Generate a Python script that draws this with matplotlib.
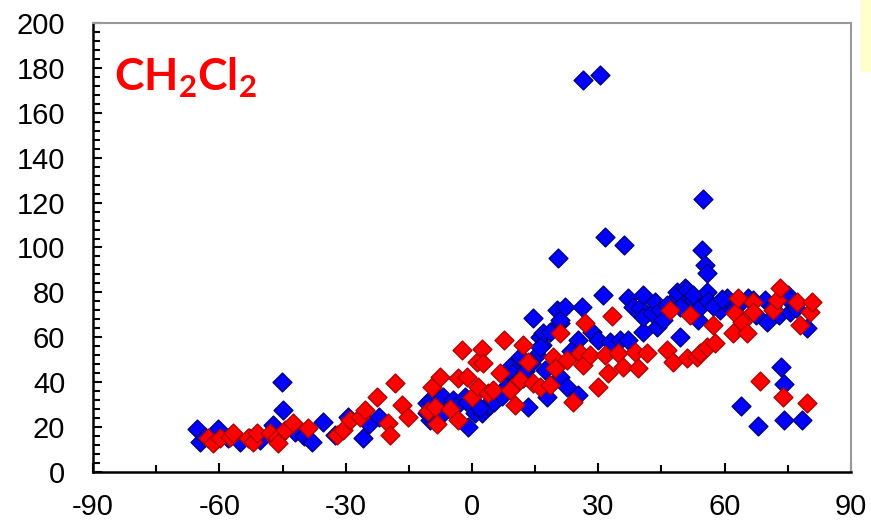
import matplotlib
matplotlib.use('Agg')
import matplotlib.pyplot as plt
from matplotlib.patches import Rectangle
from matplotlib.ticker import MultipleLocator

# blue series (x, y)
blue_x = [-65.3, -64.6, -63.5, -60.3, -58.0, -55.0, -53.0, -50.3, -47.3, -45.2, -44.8, -42.0, -40.0, -38.0,
          -35.4, -32.5, -29.4, -25.9, -24.5, -22.2,
          -10.7, -10.0, -10.7, -10.0, -8.3, -6.9, -6.4, -6.9, -4.5, -3.5, -1.7, -1.2, -0.9, 0.7, 2.4, 3.5,
          4.3, 5.5, 6.6, 8.0, 9.0, 9.5, 11.4, 12.0, 13.3, 14.5, 15.4, 16.2, 16.6, 16.9, 16.2, 17.3, 17.8,
          20.2, 20.9, 20.9, 20.4, 20.9, 22.1, 22.6, 25.2, 25.2, 26.1, 26.4, 28.5, 29.9, 30.4, 31.1, 31.6,
          32.8, 35.1, 36.1, 37.0, 37.0, 38.2, 39.9, 40.6, 40.6, 40.6, 42.8, 43.5, 43.9, 48.7, 48.7, 49.4,
          49.4, 50.6, 51.0, 52.5, 52.5, 53.7, 54.1, 54.9, 54.6, 55.3, 55.8, 55.8, 56.0, 58.9, 60.6, 63.0,
          65.5, 66.7, 69.6, 70.1, 73.0, 75.0, 74.8, 75.5, 79.6, 73.4, 74.0, 64.0, 68.0, 74.0, 78.4,
          1.8, 5.2, 7.2, 10.5, 12.6, 14.0, 18.6, 23.4, 44.6, 46.2, 45.4, 57.2, 59.4, 62.0, 67.4, 71.2, 77.0]
blue_y = [19.0, 13.4, 15.5, 19.0, 15.0, 13.4, 15.0, 14.3, 21.0, 40.3, 27.6, 18.0, 16.0, 13.4,
          22.3, 16.5, 24.5, 15.0, 21.5, 24.5,
          30.7, 23.2, 26.3, 32.0, 34.0, 33.4, 27.6, 26.3, 32.0, 30.0, 33.4, 31.2, 20.0, 26.3, 26.3, 30.0,
          29.8, 33.0, 35.2, 38.0, 46.8, 44.1, 51.2, 42.0, 29.0, 68.6, 52.1, 60.1, 56.6, 61.9, 55.7, 45.4, 33.4,
          72.2, 66.4, 67.7, 95.3, 42.3, 73.5, 37.9, 34.3, 58.8, 73.5, 174.6, 62.4, 58.8, 176.8, 78.8, 104.7,
          57.9, 58.8, 101.0, 77.5, 58.8, 73.5, 73.0, 78.8, 62.4, 69.0, 70.8, 75.7, 64.6, 78.0, 80.2, 73.5,
          60.1, 82.0, 81.0, 76.6, 78.8, 67.7, 73.5, 121.5, 99.0, 92.2, 88.6, 80.2, 76.0, 72.2, 77.5, 74.0,
          77.5, 76.6, 76.6, 66.8, 70.0, 78.8, 77.5, 71.3, 64.1, 46.8, 39.0, 29.5, 20.5, 23.0, 23.0,
          28.5, 31.0, 34.0, 40.0, 45.0, 48.5, 62.5, 54.0, 72.0, 74.5, 67.5, 74.0, 77.0, 72.0, 70.0, 74.0, 73.0]

# red series (x, y)
red_x = [-62.7, -61.5, -59.8, -57.5, -56.8, -53.2, -52.0, -51.1, -48.0, -46.3, -46.0, -44.4, -42.5, -38.9,
         -32.0, -30.6, -29.0, -26.6, -25.4, -22.6, -20.0, -19.5, -18.3, -16.6, -15.2,
         -10.5, -9.5, -8.8, -8.3, -7.6, -5.2, -3.3, -3.3, -2.4, -1.2, 0.0, 1.2, 1.4, 2.4, 2.6, 3.8, 5.0,
         6.6, 7.6, 9.0, 10.2, 11.4, 12.1, 13.3, 14.5, 16.2, 18.5, 19.2, 19.7, 20.9, 22.6, 24.0, 25.6, 26.4,
         26.8, 28.0, 29.9, 31.6, 32.3, 33.3, 34.7, 35.9, 38.7, 39.4, 41.6, 46.3, 47.0, 47.7, 51.0, 51.8,
         53.4, 54.1, 55.8, 57.2, 57.7, 62.0, 62.5, 63.2, 64.1, 65.3, 66.7, 66.7, 71.5, 72.4, 73.1, 77.2,
         77.9, 80.3, 80.7, 68.4, 73.9, 79.6]
red_y = [15.0, 13.0, 15.0, 15.5, 17.4, 15.0, 13.5, 17.4, 17.4, 15.0, 13.0, 18.7, 21.8, 19.6,
         16.5, 18.7, 23.0, 24.5, 27.6, 33.4, 22.0, 16.5, 39.6, 29.8, 24.5,
         27.0, 37.9, 29.0, 21.5, 42.3, 28.0, 41.9, 23.2, 54.3, 42.3, 33.4, 49.0, 37.9, 54.8, 48.6, 35.2, 36.5,
         44.1, 58.8, 36.5, 29.8, 41.0, 56.6, 49.0, 39.6, 37.9, 38.8, 51.2, 46.3, 61.9, 49.9, 31.2, 53.0, 47.7,
         66.4, 52.1, 37.9, 52.1, 44.1, 69.5, 53.0, 46.8, 53.5, 46.3, 53.0, 54.3, 72.0, 49.0, 50.8, 69.9,
         51.2, 53.0, 55.7, 65.5, 57.5, 61.9, 70.8, 77.5, 66.8, 61.9, 75.7, 71.3, 72.2, 76.6, 82.0, 75.7,
         65.5, 71.3, 75.7, 40.5, 33.4, 30.7]

x_ticks = [-90, -60, -30, 0, 30, 60, 90]
y_ticks = [0, 20, 40, 60, 80, 100, 120, 140, 160, 180, 200]

plt.rcParams['font.family'] = ['Liberation Sans', 'DejaVu Sans']
plt.rcParams['axes.unicode_minus'] = False
plt.rcParams['mathtext.fontset'] = 'custom'
plt.rcParams['mathtext.rm'] = 'Lato:bold'

fig = plt.figure(figsize=(8.71, 5.20), dpi=100)
ax = fig.add_axes([0.1068, 0.0923, 0.977 - 0.1068, 0.9558 - 0.0923])

ax.scatter(blue_x, blue_y, marker='D', s=92, facecolor='#0000FF', edgecolor='#000080', linewidth=1.0, zorder=3)
ax.scatter(red_x, red_y, marker='D', s=92, facecolor='#FF0000', edgecolor='#B00000', linewidth=1.0, zorder=4)

ax.set_xlim(-90, 90)
ax.set_ylim(0, 200)
ax.set_xticks(x_ticks)
ax.set_yticks(y_ticks)
ax.xaxis.set_minor_locator(MultipleLocator(15))
ax.yaxis.set_minor_locator(MultipleLocator(4))
ax.tick_params(which='both', direction='in', top=False, right=False, width=1.5, color='black')
ax.tick_params(which='major', length=6.5, labelsize=21)
ax.tick_params(which='minor', length=5)
ax.tick_params(axis='y', pad=20)
ax.tick_params(axis='x', pad=15)

for s in ['left', 'bottom']:
    ax.spines[s].set_color('black')
    ax.spines[s].set_linewidth(1.8)
for s in ['top', 'right']:
    ax.spines[s].set_color('#999999')
    ax.spines[s].set_linewidth(1.5)

ax.text(0.028, 0.85, r'CH$_\mathrm{2}$Cl$_\mathrm{2}$', transform=ax.transAxes, color='#FF0000',
        fontsize=32, fontweight='bold', family='Lato', va='baseline', ha='left')

# pale yellow strip at top right edge
fig.patches.append(Rectangle((861 / 871, 1 - 72 / 520), 10 / 871, 72 / 520,
                             transform=fig.transFigure, facecolor='#FFFFCC', edgecolor='none'))

fig.savefig('out.png', dpi=100)
